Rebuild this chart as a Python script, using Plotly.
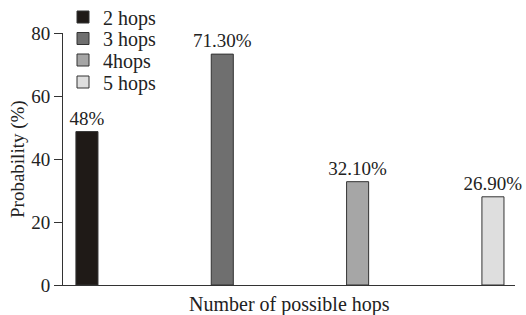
import plotly.graph_objects as go

series_names = ["2 hops", "3 hops", "4hops", "5 hops"]
positions = [0, 1, 2, 3]
values = [48.7, 73.3, 32.8, 28.0]
value_labels = ["48%", "71.30%", "32.10%", "26.90%"]
colors = ["#1f1a17", "#6f6f6f", "#a6a6a6", "#dedede"]
y_ticks = [0, 20, 40, 60, 80]

FONT = "Liberation Serif, Times New Roman, serif"

W, H = 526, 315
L, R, T, B = 63, 11, 33, 30
pw = W - L - R
ph = H - T - B

# legend row centres, in pixels from top
legend_rows_px = [17, 38.5, 60, 82]
legend_ids = ["legend", "legend2", "legend3", "legend4"]

fig = go.Figure()
for name, pos, val, lab, col, lid in zip(series_names, positions, values, value_labels, colors, legend_ids):
    fig.add_trace(go.Bar(
        x=[pos], y=[val], name=name, width=0.163,
        marker=dict(color=col, line=dict(color="#333333", width=1)),
        text=[lab], textposition="outside", cliponaxis=False,
        constraintext="none", legend=lid, showlegend=True,
        textfont=dict(family=FONT, size=19, color="#222222"),
    ))

legend_layouts = {}
for lid, py in zip(legend_ids, legend_rows_px):
    legend_layouts[lid] = dict(
        x=0.0, y=(H - B - py) / ph, xanchor="left", yanchor="middle",
        font=dict(family=FONT, size=20, color="#222222"),
        bgcolor="rgba(0,0,0,0)",
    )

fig.update_layout(
    width=W, height=H,
    margin=dict(l=L, r=R, t=T, b=B, autoexpand=False),
    paper_bgcolor="white", plot_bgcolor="white",
    barmode="overlay", showlegend=True,
    font=dict(family=FONT, size=19, color="#222222"),
    xaxis=dict(
        range=[-0.177, 3.163], showticklabels=False, ticks="",
        showline=True, linecolor="#333333", linewidth=1,
        showgrid=False, zeroline=False,
    ),
    yaxis=dict(
        range=[0, 80], tickvals=y_ticks, ticks="outside", ticklen=8,
        tickcolor="#333333", showline=True, linecolor="#333333", linewidth=1,
        showgrid=False, zeroline=False,
        tickfont=dict(family=FONT, size=19, color="#222222"),
    ),
    annotations=[
        dict(text="Number of possible hops", xref="paper", yref="paper",
             x=0.5, y=0, yshift=-19, showarrow=False, yanchor="middle",
             font=dict(family=FONT, size=20, color="#222222")),
        dict(text="Probability (%)", xref="paper", yref="paper",
             x=0, xshift=-(L - 18), y=0.5, showarrow=False, textangle=-90,
             xanchor="center", yanchor="middle",
             font=dict(family=FONT, size=19, color="#222222")),
    ],
    **legend_layouts,
)

fig.write_html("out.html", config={"displayModeBar": False},
               post_script="document.body.style.margin='0';")
